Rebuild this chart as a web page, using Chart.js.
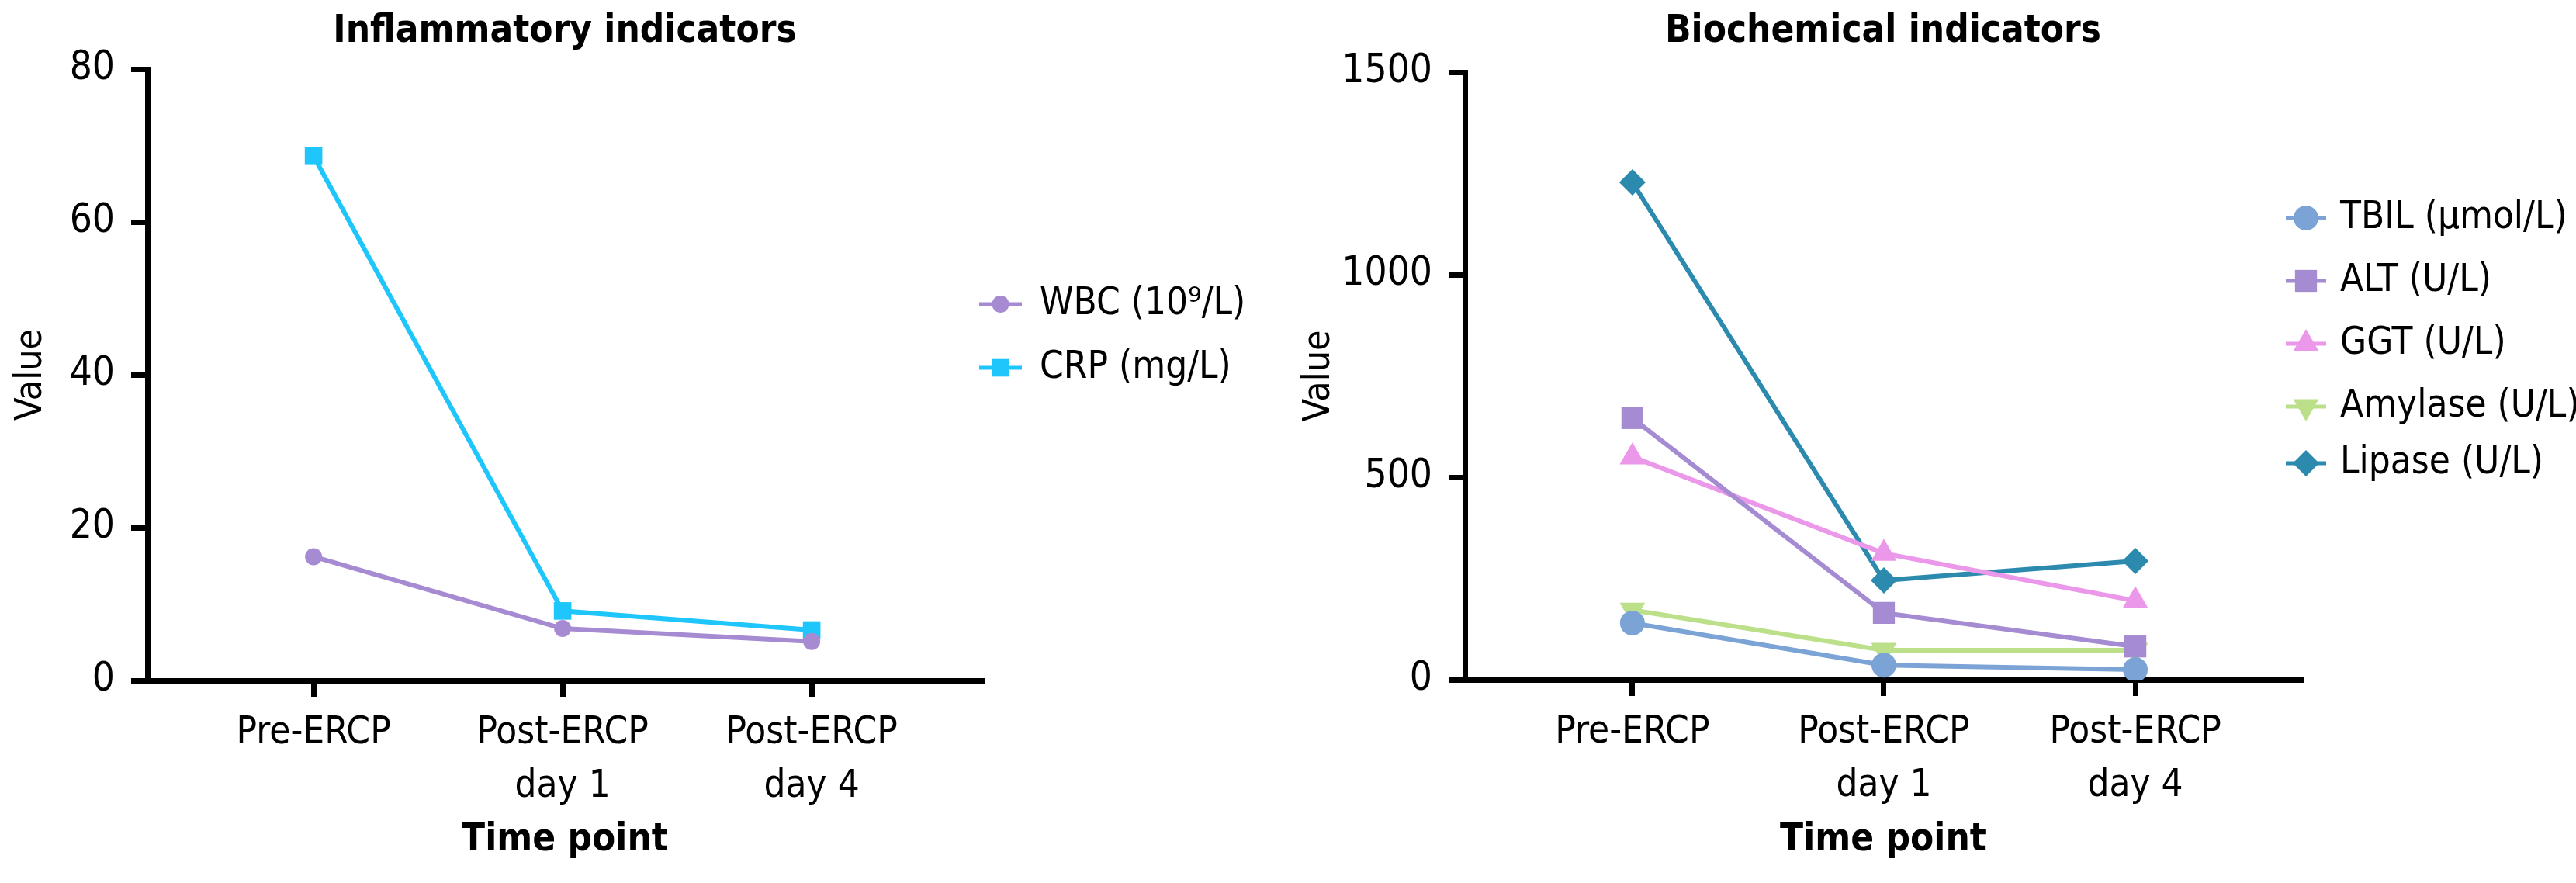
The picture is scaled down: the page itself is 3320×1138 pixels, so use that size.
<!DOCTYPE html>
<html>
<head>
<meta charset="utf-8">
<title>Inflammatory and biochemical indicators</title>
<script src="https://cdn.jsdelivr.net/npm/chart.js@4.4.1/dist/chart.umd.min.js"></script>
<style>
  html, body { margin: 0; padding: 0; background: #fff; }
  body { width: 3320px; height: 1138px; position: relative; overflow: hidden; }
  .panel { position: absolute; top: 0; width: 1660px; height: 1138px; }
</style>
</head>
<body>
<div class="panel" style="left:0"><canvas id="leftChart" width="1660" height="1138"></canvas></div>
<div class="panel" style="left:1660px"><canvas id="rightChart" width="1660" height="1138"></canvas></div>
<script>
// x categories (multi-line tick labels)
var timePoints = [["Pre-ERCP"], ["Post-ERCP", "day 1"], ["Post-ERCP", "day 4"]];

// left panel: inflammatory indicators
var leftNames = ["WBC (10\u2079/L)", "CRP (mg/L)"];
var wbc = [16.2, 6.8, 5.1];
var crp = [68.6, 9.1, 6.6];

// right panel: biochemical indicators
var rightNames = ["TBIL (\u03bcmol/L)", "ALT (U/L)", "GGT (U/L)", "Amylase (U/L)", "Lipase (U/L)"];
var tbil = [140, 36, 25];
var alt = [646, 165, 82];
var ggt = [550, 312, 195];
var amylase = [172, 73, 73];
var lipase = [1228, 245, 293];

// y axis ticks
var leftTicks = { max: 80, step: 20 };
var rightTicks = { max: 1500, step: 500 };

var FONT = '"DejaVu Sans Condensed", "DejaVu Sans", Verdana, sans-serif';
Chart.defaults.font.family = FONT;
Chart.defaults.color = '#000';

function series(label, values, color, style, radius, rotation) {
  return {
    label: label,
    data: values.map(function(v, i) { return { x: i, y: v }; }),
    borderColor: color,
    backgroundColor: color,
    borderWidth: 6,
    pointStyle: style,
    pointRadius: radius,
    pointHoverRadius: radius,
    pointRotation: rotation || 0,
    pointBorderWidth: 0,
    tension: 0
  };
}

// legend drawn at the right of each panel: line + marker + text
var sideLegend = {
  id: 'sideLegend',
  afterDraw: function(chart, args, opts) {
    var ctx = chart.ctx;
    ctx.save();
    chart.data.datasets.forEach(function(ds, i) {
      var y = opts.rows[i];
      ctx.strokeStyle = ds.borderColor;
      ctx.lineWidth = 5;
      ctx.beginPath();
      ctx.moveTo(opts.lineX0, y);
      ctx.lineTo(opts.lineX1, y);
      ctx.stroke();
      ctx.fillStyle = ds.backgroundColor;
      Chart.helpers.drawPoint(ctx, {
        pointStyle: ds.pointStyle,
        rotation: ds.pointRotation,
        radius: ds.pointRadius,
        borderWidth: 0
      }, (opts.lineX0 + opts.lineX1) / 2, y);
      ctx.fillStyle = '#000';
      ctx.font = '49px ' + FONT;
      ctx.textBaseline = 'middle';
      ctx.textAlign = 'left';
      ctx.fillText(ds.label, opts.textX, y);
    });
    ctx.restore();
  }
};

function axisLook() {
  return {
    grid: { drawOnChartArea: false, drawTicks: true, tickLength: 21, tickWidth: 7, tickColor: '#000', color: '#000', lineWidth: 7 },
    border: { display: true, width: 7, color: '#000' }
  };
}

function makeChart(id, cfg) {
  var xLook = axisLook(), yLook = axisLook();
  return new Chart(document.getElementById(id), {
    type: 'line',
    data: { datasets: cfg.datasets },
    plugins: [sideLegend],
    options: {
      responsive: false,
      animation: false,
      devicePixelRatio: 1,
      layout: { padding: { left: 0, right: cfg.padRight, top: 0, bottom: 0 } },
      plugins: {
        legend: { display: false },
        tooltip: { enabled: false },
        title: {
          display: true, text: cfg.title, fullSize: false, color: '#000',
          font: { size: 49, weight: 'bold', lineHeight: 1.2 },
          padding: { top: 12, bottom: cfg.top - 12 - 58.8 }
        },
        sideLegend: cfg.legend
      },
      scales: {
        x: {
          type: 'linear', min: cfg.xMin, max: cfg.xMax,
          afterBuildTicks: function(s) { s.ticks = timePoints.map(function(t, i) { return { value: i }; }); },
          afterFit: function(s) { s.height = 1138 - cfg.bottom; },
          ticks: {
            callback: function(v) { return timePoints[v]; },
            font: { size: 49, lineHeight: 1.42 }, color: '#000', padding: 12,
            maxRotation: 0, autoSkip: false
          },
          grid: xLook.grid, border: xLook.border,
          title: { display: true, text: 'Time point', color: '#000',
                   font: { size: 49, weight: 'bold', lineHeight: 1.2 }, padding: { top: 0, bottom: 25 } }
        },
        y: {
          min: 0, max: cfg.yMax,
          afterFit: function(s) { s.width = cfg.left; },
          ticks: {
            stepSize: cfg.yStep, font: { size: 51 }, color: '#000', padding: 21,
            callback: function(v) { return String(v); }
          },
          grid: yLook.grid, border: yLook.border,
          title: { display: true, text: 'Value', color: '#000', font: { size: 48, lineHeight: 1.2 }, padding: { top: 12, bottom: 0 } }
        }
      }
    }
  });
}

makeChart('leftChart', {
  title: 'Inflammatory indicators',
  datasets: [
    series(leftNames[0], wbc, '#a68bd3', 'circle', 11),
    series(leftNames[1], crp, '#1ec6fb', 'rect', 16)
  ],
  left: 190, padRight: 394, top: 89, bottom: 877,
  xMin: -0.667, xMax: 2.685,
  yMax: leftTicks.max, yStep: leftTicks.step,
  legend: { rows: [392, 474], lineX0: 1262, lineX1: 1317, textX: 1340 }
});

makeChart('rightChart', {
  title: 'Biochemical indicators',
  datasets: [
    series(rightNames[0], tbil, '#7ba3d6', 'circle', 16),
    series(rightNames[1], alt, '#a58bd2', 'rect', 20),
    series(rightNames[2], ggt, '#ec98ea', 'triangle', 19),
    series(rightNames[3], amylase, '#bce08a', 'triangle', 19, 180),
    series(rightNames[4], lipase, '#2b8aad', 'rectRot', 17)
  ],
  left: 228, padRight: 354, top: 93, bottom: 876,
  xMin: -0.666, xMax: 2.66,
  yMax: rightTicks.max, yStep: rightTicks.step,
  legend: { rows: [281, 362, 443, 524, 597], lineX0: 1286, lineX1: 1338, textX: 1356 }
});
</script>
</body>
</html>
